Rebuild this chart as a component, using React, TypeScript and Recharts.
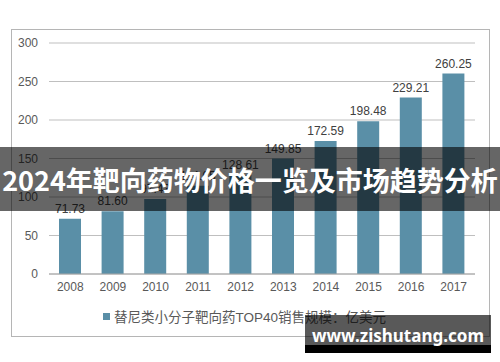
import { BarChart, Bar, XAxis, YAxis, CartesianGrid, Legend, LabelList } from "recharts";

const years = ["2008", "2009", "2010", "2011", "2012", "2013", "2014", "2015", "2016", "2017"];
const sales = [71.73, 81.6, 97.43, 114.65, 128.61, 149.85, 172.59, 198.48, 229.21, 260.25];
const yTicks = [0, 50, 100, 150, 200, 250, 300];

const seriesName = "替尼类小分子靶向药TOP40销售规模：亿美元";
const bannerTitle = "2024年靶向药物价格一览及市场趋势分析";
const watermark = "www.zishutang.com";

const data = years.map((year, i) => ({ year, value: sales[i] }));

const font = "'Liberation Sans', 'Noto Sans CJK SC', Arial, sans-serif";

function LegendContent() {
    return (
        <div style={{ display: "flex", alignItems: "center", justifyContent: "center", height: 20, fontFamily: font, fontSize: 13.5, color: "#595959", paddingLeft: 14 }}>
            <span style={{ width: 7, height: 7, background: "#5a8fa7", marginRight: 4, display: "inline-block" }} />
            <span>{seriesName}</span>
        </div>
    );
}

export default function App() {
    return (
        <div style={{ position: "absolute", left: 0, top: 0, width: 500, height: 362, background: "#fff", overflow: "hidden" }}>
            <div style={{ position: "absolute", left: 11, top: 29, width: 477, height: 306, border: "1px solid #b5b5b5" }} />
            <div style={{ position: "absolute", left: 0, top: 0 }}>
                <BarChart width={500} height={362} data={data} margin={{ top: 43, right: 25, left: 0, bottom: 36 }}>
                    <CartesianGrid vertical={false} stroke="#bfbfbf" />
                    <XAxis
                        dataKey="year"
                        height={32}
                        tickLine={false}
                        axisLine={{ stroke: "#a6a6a6" }}
                        tickSize={0}
                        tickMargin={8}
                        tick={{ fontSize: 12, fill: "#595959", fontFamily: font }}
                    />
                    <YAxis
                        width={49}
                        domain={[0, 300]}
                        ticks={yTicks}
                        tickLine={false}
                        axisLine={false}
                        tickSize={0}
                        tickMargin={11}
                        tick={{ fontSize: 12, fill: "#595959", fontFamily: font }}
                    />
                    <Legend verticalAlign="bottom" content={<LegendContent />} />
                    <Bar dataKey="value" name={seriesName} fill="#5a8fa7" barSize={22} isAnimationActive={false}>
                        <LabelList
                            dataKey="value"
                            position="top"
                            offset={6}
                            formatter={(v: any) => Number(v).toFixed(2)}
                            style={{ fontSize: 12, fill: "#404040", fontFamily: font }}
                        />
                    </Bar>
                </BarChart>
            </div>
            <div
                style={{
                    position: "absolute", left: 0, top: 147, width: 500, height: 64, background: "rgba(0,0,0,0.6)",
                    color: "#fff", fontFamily: "'Noto Sans CJK SC', sans-serif", fontWeight: 700, fontSize: 27,
                    display: "flex", alignItems: "center", justifyContent: "center", whiteSpace: "nowrap",
                }}
            >
                {bannerTitle}
            </div>
            <div
                style={{
                    position: "absolute", left: 305, top: 315, width: 186, height: 30, background: "rgba(0,0,0,0.65)",
                }}
            />
            <div style={{ position: "absolute", left: 305, top: 345, width: 186, height: 8, background: "#000" }} />
            <div
                style={{
                    position: "absolute", left: 305, top: 322, width: 186, height: 26, color: "#fff",
                    fontFamily: "'Noto Sans', sans-serif", fontWeight: 700, fontSize: 17,
                    display: "flex", alignItems: "center", justifyContent: "center", whiteSpace: "nowrap",
                }}
            >
                {watermark}
            </div>
        </div>
    );
}
